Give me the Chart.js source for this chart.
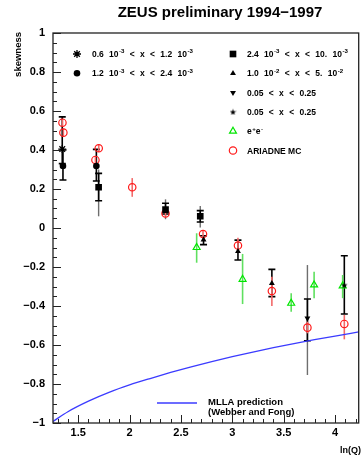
<!DOCTYPE html>
<html>
<head>
<meta charset="utf-8">
<script src="https://cdn.jsdelivr.net/npm/chart.js@4.4.1/dist/chart.umd.min.js"></script>
<style>
  body { margin: 0; background: #fff; }
  canvas { display: block; }
</style>
</head>
<body>
<canvas id="c" width="364" height="459"></canvas>
<script>
// AXES
const xTicks = [1.5, 2, 2.5, 3, 3.5, 4];
const yTicks = [-1, -0.8, -0.6, -0.4, -0.2, 0, 0.2, 0.4, 0.6, 0.8, 1];

// 0.6 10^-3 < x < 1.2 10^-3 (asterisk)
const s1X = [1.345];
const s1Y = [0.405];
const s1Lo = [0.33];
const s1Hi = [0.57];

// 1.2 10^-3 < x < 2.4 10^-3 (filled circle)
const s2X = [1.352, 1.677];
const s2Y = [0.318, 0.318];
const s2Lo = [0.246, 0.241];
const s2Hi = [0.40, 0.403];

// 2.4 10^-3 < x < 10. 10^-3 (square)
const s3X = [1.699, 2.35, 2.688];
const s3Y = [0.209, 0.094, 0.06];
const s3Lo = [0.14, 0.072, 0.031];
const s3Hi = [0.28, 0.127, 0.089];
const s3SysLo = [0.06, 0.045, 0.003];
const s3SysHi = [0.30, 0.147, 0.113];

// 1.0 10^-2 < x < 5. 10^-2 (triangle)
const s4X = [2.72, 3.055, 3.385];
const s4Y = [-0.06, -0.12, -0.284];
const s4Lo = [-0.085, -0.164, -0.352];
const s4Hi = [-0.04, -0.062, -0.212];

// 0.05 < x < 0.25 (down triangle)
const s5X = [3.731];
const s5Y = [-0.463];
const s5Lo = [-0.578];
const s5Hi = [-0.364];
const s5SysLo = [-0.754];
const s5SysHi = [-0.19];

// 0.05 < x < 0.25 (star)
const s6X = [4.09];
const s6Y = [-0.292];
const s6Lo = [-0.441];
const s6Hi = [-0.142];

// e+e-
const eeX = [2.653, 3.10, 3.573, 3.796, 4.074];
const eeY = [-0.10, -0.263, -0.386, -0.292, -0.297];
const eeLo = [-0.178, -0.39, -0.43, -0.36, -0.36];
const eeHi = [-0.027, -0.133, -0.335, -0.224, -0.241];

// ARIADNE MC
const mcX = [1.347, 1.356, 1.70, 1.668, 2.026, 2.35, 2.715, 3.055, 3.385, 3.731, 4.09];
const mcY = [0.54, 0.489, 0.409, 0.349, 0.209, 0.075, -0.031, -0.09, -0.323, -0.511, -0.492];
const mcLo = [0.52, 0.47, 0.39, 0.33, 0.16, 0.055, -0.05, -0.11, -0.40, -0.54, -0.571];
const mcHi = [0.56, 0.51, 0.43, 0.37, 0.256, 0.095, -0.01, -0.05, -0.25, -0.48, -0.446];

// MLLA prediction (Webber and Fong)
const mllaX = [1.255, 1.4, 1.6, 1.8, 2.0, 2.2, 2.4, 2.6, 2.8, 3.0, 3.2, 3.4, 3.6, 3.8, 4.0, 4.23];
const mllaY = [-0.992, -0.942, -0.888, -0.843, -0.805, -0.772, -0.741, -0.712, -0.685, -0.66, -0.636, -0.614, -0.593, -0.573, -0.554, -0.533];

function pts(xs, ys) {
    return xs.map((x, i) => ({ x: x, y: ys[i] }));
}

// small filled five point star
const starImg = document.createElement('canvas');
starImg.width = 7; starImg.height = 7;
(function() {
    const g = starImg.getContext('2d');
    g.fillStyle = '#000';
    g.beginPath();
    for (let k = 0; k < 10; k++) {
        const r = k % 2 ? 1.4 : 3.4;
        const a = -Math.PI / 2 + k * Math.PI / 5;
        g.lineTo(3.5 + r * Math.cos(a), 3.8 + r * Math.sin(a));
    }
    g.closePath();
    g.fill();
})();

const BOLD = '"Liberation Sans", Arial, sans-serif';

const errorBars = {
    id: 'errorBars',
    beforeDatasetsDraw(chart) {
        const ctx = chart.ctx;
        const ys = chart.scales.y;
        chart.data.datasets.forEach((ds, di) => {
            if (!ds.err) return;
            const e = ds.err;
            const meta = chart.getDatasetMeta(di);
            meta.data.forEach((pt, i) => {
                const x = pt.x;
                ctx.save();
                if (e.sysLo) {
                    ctx.strokeStyle = '#6e6e6e';
                    ctx.lineWidth = 1.4;
                    ctx.beginPath();
                    ctx.moveTo(x, ys.getPixelForValue(e.sysLo[i]));
                    ctx.lineTo(x, ys.getPixelForValue(e.sysHi[i]));
                    ctx.stroke();
                }
                ctx.strokeStyle = e.color;
                ctx.lineWidth = e.width;
                const yl = ys.getPixelForValue(e.lo[i]);
                const yh = ys.getPixelForValue(e.hi[i]);
                ctx.beginPath();
                ctx.moveTo(x, yl);
                ctx.lineTo(x, yh);
                if (e.cap) {
                    ctx.moveTo(x - e.cap, yl); ctx.lineTo(x + e.cap, yl);
                    ctx.moveTo(x - e.cap, yh); ctx.lineTo(x + e.cap, yh);
                }
                ctx.stroke();
                ctx.restore();
            });
        });
    }
};

function richText(ctx, str, x, y, size, gap) {
    // text with ^{..} superscripts, spaces widened like TLatex
    const parts = str.split(/(\^\{[^}]*\}| )/);
    parts.forEach(p => {
        if (!p) return;
        if (p === ' ') {
            x += gap;
        } else if (p.startsWith('^{')) {
            const s = p.slice(2, -1);
            ctx.font = 'bold ' + (size * 0.72) + 'px ' + BOLD;
            ctx.fillText(s, x + 0.5, y - size * 0.42);
            x += ctx.measureText(s).width + 0.5;
        } else {
            ctx.font = 'bold ' + size + 'px ' + BOLD;
            ctx.fillText(p, x, y);
            x += ctx.measureText(p).width;
        }
    });
}

const legendRows = [
    { col: 0, row: 0, text: '0.6 10^{-3} < x < 1.2 10^{-3}', ds: 0 },
    { col: 0, row: 1, text: '1.2 10^{-3} < x < 2.4 10^{-3}', ds: 1 },
    { col: 1, row: 0, text: '2.4 10^{-3} < x < 10. 10^{-3}', ds: 2 },
    { col: 1, row: 1, text: '1.0 10^{-2} < x < 5. 10^{-2}', ds: 3 },
    { col: 1, row: 2, text: '0.05 < x < 0.25', ds: 4 },
    { col: 1, row: 3, text: '0.05 < x < 0.25', ds: 5 },
    { col: 1, row: 4, text: 'e^{+}e^{-}', ds: 6 },
    { col: 1, row: 5, text: 'ARIADNE MC', ds: 7 }
];

const decorations = {
    id: 'decorations',
    afterDraw(chart) {
        const ctx = chart.ctx;
        const a = chart.chartArea;
        const xs = chart.scales.x, ys = chart.scales.y;
        ctx.save();

        // frame
        ctx.strokeStyle = '#222';
        ctx.lineWidth = 1.3;
        ctx.strokeRect(a.left, a.top, a.right - a.left, a.bottom - a.top);

        // inward ticks
        ctx.lineWidth = 1;
        ctx.beginPath();
        for (let k = 13; k <= 42; k++) {
            const v = k / 10;
            const px = Math.round(xs.getPixelForValue(v)) + 0.5;
            const len = (k % 5 === 0) ? 8 : 4;
            ctx.moveTo(px, a.bottom); ctx.lineTo(px, a.bottom - len);
        }
        for (let k = -20; k <= 20; k++) {
            const v = k / 20;
            const py = Math.round(ys.getPixelForValue(v)) + 0.5;
            const len = (k % 4 === 0) ? 8 : 4;
            ctx.moveTo(a.left, py); ctx.lineTo(a.left + len, py);
        }
        ctx.stroke();

        // title
        ctx.fillStyle = '#000';
        ctx.textAlign = 'center';
        ctx.textBaseline = 'alphabetic';
        ctx.font = 'bold 15px ' + BOLD;
        ctx.fillText('ZEUS preliminary 1994\u22121997', 220, 17);

        // axis titles
        ctx.font = 'bold 9px ' + BOLD;
        ctx.textAlign = 'right';
        ctx.fillText('ln(Q)', 361, 453);
        ctx.save();
        ctx.translate(21, 32);
        ctx.rotate(-Math.PI / 2);
        ctx.textAlign = 'right';
        ctx.font = 'bold 9.5px ' + BOLD;
        ctx.fillText('skewness', 0, 0);
        ctx.restore();

        // legend
        ctx.textAlign = 'left';
        legendRows.forEach(r => {
            const ds = chart.data.datasets[r.ds + 1];
            const mx = r.col === 0 ? 77 : 233;
            const tx = r.col === 0 ? 92 : 247;
            const my = 54 + r.row * 19.3;
            ctx.save();
            ctx.fillStyle = ds.backgroundColor;
            ctx.strokeStyle = ds.borderColor;
            ctx.lineWidth = ds.borderWidth;
            Chart.helpers.drawPoint(ctx, {
                pointStyle: ds.pointStyle,
                radius: ds.pointRadius,
                rotation: ds.rotation || 0,
                borderWidth: ds.borderWidth
            }, mx, my);
            ctx.restore();
            ctx.fillStyle = '#000';
            richText(ctx, r.text, tx, my + 3, 8.5, r.row === 5 ? 2.4 : 5.3);
        });

        // MLLA legend
        ctx.strokeStyle = '#3b3bff';
        ctx.lineWidth = 1.5;
        ctx.beginPath();
        ctx.moveTo(157, 403); ctx.lineTo(197, 403);
        ctx.stroke();
        ctx.fillStyle = '#000';
        ctx.font = 'bold 9.5px ' + BOLD;
        ctx.fillText('MLLA prediction', 208, 405);
        ctx.fillText('(Webber and Fong)', 208, 415);

        ctx.restore();
    }
};

const ctx = document.getElementById('c').getContext('2d');
const chart = new Chart(ctx, {
    type: 'scatter',
    data: {
        datasets: [
            {
                type: 'line',
                data: pts(mllaX, mllaY),
                borderColor: '#3b3bff',
                borderWidth: 1.3,
                pointRadius: 0,
                fill: false,
                cubicInterpolationMode: 'monotone',
                order: 10
            },
            {
                data: pts(s1X, s1Y),
                pointStyle: 'star', pointRadius: 4,
                backgroundColor: '#000', borderColor: '#000', borderWidth: 1.3,
                err: { lo: s1Lo, hi: s1Hi, color: '#000', width: 1.6, cap: 3.5 }
            },
            {
                data: pts(s2X, s2Y),
                pointStyle: 'circle', pointRadius: 3.3,
                backgroundColor: '#000', borderColor: '#000', borderWidth: 0,
                err: { lo: s2Lo, hi: s2Hi, color: '#000', width: 1.6, cap: 3.5 }
            },
            {
                data: pts(s3X, s3Y),
                pointStyle: 'rect', pointRadius: 4.7,
                backgroundColor: '#000', borderColor: '#000', borderWidth: 0,
                err: { lo: s3Lo, hi: s3Hi, sysLo: s3SysLo, sysHi: s3SysHi, color: '#000', width: 1.6, cap: 3.5 }
            },
            {
                data: pts(s4X, s4Y),
                pointStyle: 'triangle', pointRadius: 3.4,
                backgroundColor: '#000', borderColor: '#000', borderWidth: 0,
                err: { lo: s4Lo, hi: s4Hi, color: '#000', width: 1.6, cap: 3.5 }
            },
            {
                data: pts(s5X, s5Y),
                pointStyle: 'triangle', rotation: 180, pointRadius: 3.4,
                backgroundColor: '#000', borderColor: '#000', borderWidth: 0,
                err: { lo: s5Lo, hi: s5Hi, sysLo: s5SysLo, sysHi: s5SysHi, color: '#000', width: 1.6, cap: 3.5 }
            },
            {
                data: pts(s6X, s6Y),
                pointStyle: starImg, pointRadius: 3.5,
                backgroundColor: '#000', borderColor: '#000', borderWidth: 0,
                err: { lo: s6Lo, hi: s6Hi, color: '#000', width: 1.6, cap: 3.5 }
            },
            {
                data: pts(eeX, eeY),
                pointStyle: 'triangle', pointRadius: 4,
                backgroundColor: 'rgba(0,0,0,0)', borderColor: '#00e600', borderWidth: 1.2,
                err: { lo: eeLo, hi: eeHi, color: '#5fe05f', width: 1.6 },
                order: 5
            },
            {
                data: pts(mcX, mcY),
                pointStyle: 'circle', pointRadius: 3.7,
                backgroundColor: 'rgba(0,0,0,0)', borderColor: '#ff1a1a', borderWidth: 1.2,
                err: { lo: mcLo, hi: mcHi, color: '#f36a6a', width: 1.6 },
                order: 4
            }
        ]
    },
    options: {
        responsive: false,
        animation: false,
        devicePixelRatio: 1,
        layout: { padding: { top: 33, right: 4, left: 0, bottom: 0 } },
        plugins: {
            legend: { display: false },
            tooltip: { enabled: false }
        },
        scales: {
            x: {
                type: 'linear',
                min: 1.255,
                max: 4.23,
                afterBuildTicks: s => { s.ticks = xTicks.map(v => ({ value: v })); },
                afterFit: s => { s.height = 36; },
                grid: { display: false, drawTicks: false },
                border: { display: false },
                ticks: {
                    padding: 3,
                    color: '#000',
                    font: { family: BOLD, size: 11, weight: 'bold' },
                    callback: v => String(v)
                }
            },
            y: {
                type: 'linear',
                min: -1,
                max: 1,
                afterBuildTicks: s => { s.ticks = yTicks.map(v => ({ value: v })); },
                afterFit: s => { s.width = 53; },
                grid: { display: false, drawTicks: false },
                border: { display: false },
                ticks: {
                    padding: 8,
                    color: '#000',
                    font: { family: BOLD, size: 11, weight: 'bold' },
                    callback: v => String(v).replace('-', '\u2212')
                }
            }
        }
    },
    plugins: [errorBars, decorations]
});
</script>
</body>
</html>
